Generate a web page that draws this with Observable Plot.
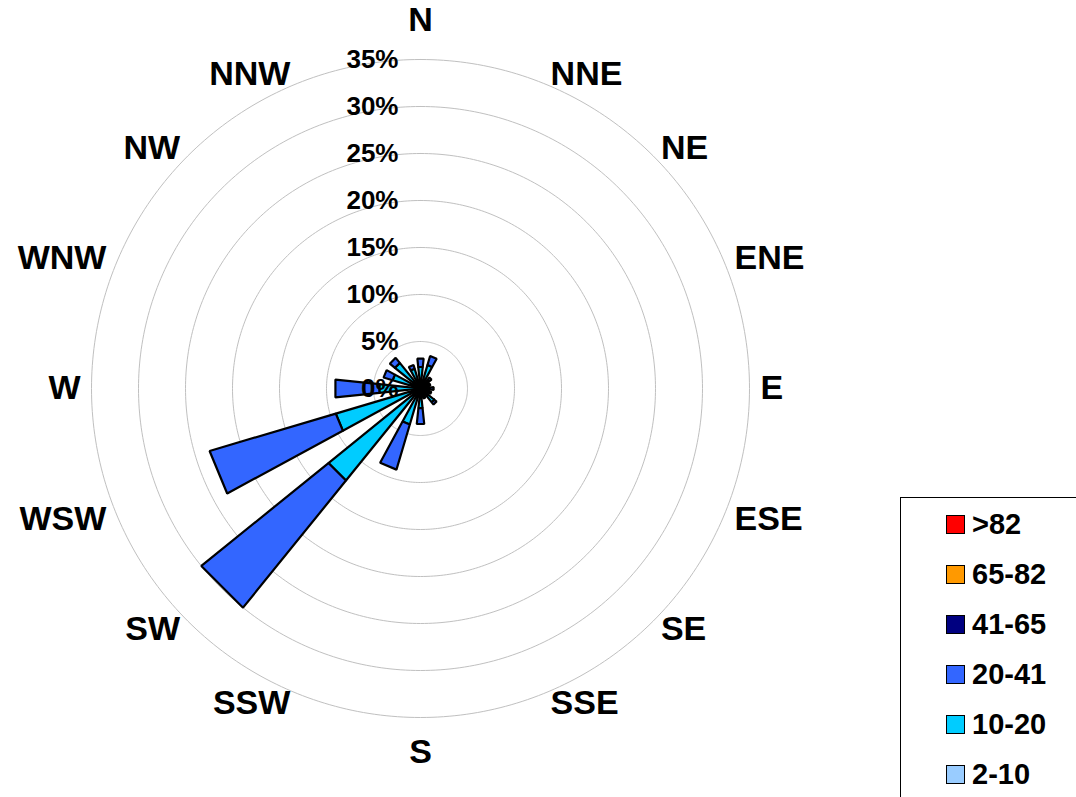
<!DOCTYPE html>
<html><head><meta charset="utf-8">
<script src="https://cdn.jsdelivr.net/npm/d3@7"></script>
<script src="https://cdn.jsdelivr.net/npm/@observablehq/plot@0.6"></script>
<style>
body{margin:0;background:#fff;font-family:"Liberation Sans",Arial,sans-serif;}
#wrap{position:relative;width:1076px;height:797px;overflow:hidden;}
#wrap svg{position:absolute;left:0;top:0;}
#legend{position:absolute;left:900px;top:497px;width:220px;height:340px;border:1px solid #000;background:#fff;box-sizing:border-box;}
.item{position:absolute;left:45px;height:30px;display:flex;align-items:center;font-weight:bold;font-size:29px;line-height:30px;color:#000;}
.sw{width:17px;height:17px;border:1px solid #000;margin-right:7px;flex:none;}
</style></head><body><div id="wrap"></div>
<script>
// ---- data ----
const directions = ["N","NNE","NE","ENE","E","ESE","SE","SSE","S","SSW","SW","WSW","W","WNW","NW","NNW"];
const speedClasses = ["2-10","10-20","20-41","41-65","65-82",">82"];
const classColors = ["#99ccff","#00ccff","#3366ff","#000080","#ff9900","#ff0000"];
const freq_2_10  = [0.5,0.5,0.4,0.3,0.3,0.3,0.4,0.3,0.5,0.6,1.0,0.8,0.7,0.5,0.5,0.4];
const freq_10_20 = [1.8,2.1,0.8,0.6,0.7,0.6,1.5,0.6,1.6,3.4,11.6,8.6,3.7,2.6,3.0,1.8];
const freq_20_41 = [0.9,1.0,0.3,0.2,0.4,0.3,0.3,0.2,1.7,5.0,17.4,14.0,4.7,1.0,0.7,0.4];
const freq_41_65 = [0,0,0,0,0,0,0,0,0,0,0,0,0,0,0,0];
const freq_65_82 = [0,0,0,0,0,0,0,0,0,0,0,0,0,0,0,0];
const freq_gt82  = [0,0,0,0,0,0,0,0,0,0,0,0,0,0,0,0];
const ringTicks = [0,5,10,15,20,25,30,35];
const tickLabels = ["0%","5%","10%","15%","20%","25%","30%","35%"];

// ---- layout ----
const W = 1076, H = 797, cx = 420, cy = 388, k = 9.4; // px per percent
const sectorWidth = 12; // degrees
const labelRadius = 340 / k;
const rad = Math.PI / 180;

const series = [freq_2_10, freq_10_20, freq_20_41, freq_41_65, freq_65_82, freq_gt82];

// wedge polygons
const wedgePts = [];
directions.forEach((dir, i) => {
  const b = i * 360 / directions.length;
  let cum = 0;
  series.forEach((s, c) => {
    const v = s[i];
    const r0 = cum, r1 = cum + v;
    cum = r1;
    if (v <= 0) return;
    const a0 = (b - sectorWidth / 2) * rad, a1 = (b + sectorWidth / 2) * rad;
    const id = dir + "|" + speedClasses[c];
    [[r0, a0], [r1, a0], [r1, a1], [r0, a1], [r0, a0]].forEach(([r, a]) =>
      wedgePts.push({id, cls: speedClasses[c], x: r * Math.sin(a), y: r * Math.cos(a)}));
  });
});

// grid rings
const ringPts = [];
ringTicks.filter(t => t > 0).forEach(t => {
  for (let a = 0; a <= 360; a += 1) ringPts.push({t, x: t * Math.sin(a * rad), y: t * Math.cos(a * rad)});
});

const dirLabels = directions.map((d, i) => {
  const b = i * 360 / directions.length;
  return {d, b, x: labelRadius * Math.sin(b * rad), y: labelRadius * Math.cos(b * rad)};
});

const font = {fontSize: 34, fontWeight: "bold", fill: "#000", lineAnchor: "middle"};

const chart = Plot.plot({
  width: W, height: H,
  marginTop: 0, marginRight: 0, marginBottom: 0, marginLeft: 0,
  x: {domain: [-cx / k, (W - cx) / k], axis: null},
  y: {domain: [-(H - cy) / k, cy / k], axis: null},
  color: {domain: speedClasses, range: classColors},
  style: {fontFamily: "'Liberation Sans', Arial, sans-serif", background: "transparent", overflow: "visible"},
  marks: [
    Plot.line(ringPts, {x: "x", y: "y", z: "t", stroke: "#c0c0c0", strokeWidth: 1, curve: "linear"}),
    Plot.line(wedgePts, {x: "x", y: "y", z: "id", fill: "cls", stroke: "#000", strokeWidth: 2.2, strokeLinejoin: "miter", curve: "linear"}),
    Plot.text(ringTicks, {x: 0, y: d => d, text: (d, i) => tickLabels[i], textAnchor: "end", dx: -22, fontSize: 26, fontWeight: "bold", fill: "#000", lineAnchor: "middle"}),
    Plot.text(dirLabels.filter(l => l.b > 0 && l.b < 180), {x: "x", y: "y", text: "d", textAnchor: "start", ...font}),
    Plot.text(dirLabels.filter(l => l.b > 180), {x: "x", y: "y", text: "d", textAnchor: "end", ...font}),
    Plot.text(dirLabels.filter(l => l.b === 0), {x: "x", y: "y", text: "d", textAnchor: "middle", dy: -28, ...font}),
    Plot.text(dirLabels.filter(l => l.b === 180), {x: "x", y: "y", text: "d", textAnchor: "middle", dy: 24, ...font})
  ]
});

const wrap = document.getElementById("wrap");
wrap.appendChild(chart);

// legend (top: highest class)
const legend = document.createElement("div");
legend.id = "legend";
speedClasses.slice().reverse().forEach((c, j) => {
  const item = document.createElement("div");
  item.className = "item";
  item.style.top = (11 + j * 50) + "px";
  const sw = document.createElement("div");
  sw.className = "sw";
  sw.style.background = classColors[speedClasses.indexOf(c)];
  const tx = document.createElement("span");
  tx.textContent = c;
  item.appendChild(sw); item.appendChild(tx);
  legend.appendChild(item);
});
wrap.appendChild(legend);
</script></body></html>
